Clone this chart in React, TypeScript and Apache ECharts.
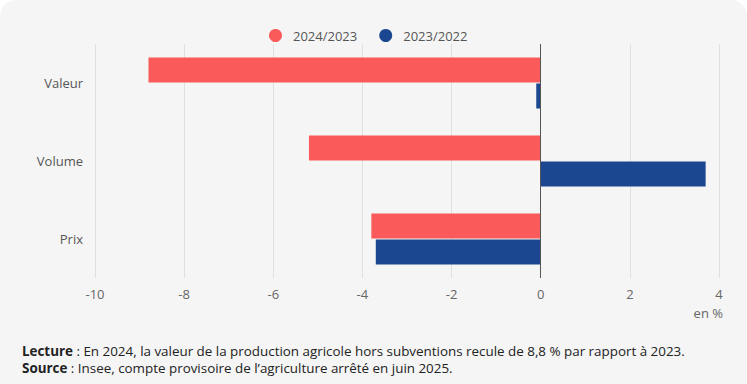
import React, { useEffect, useRef } from "react";
import * as echarts from "echarts";

const categories = ["Valeur", "Volume", "Prix"];
const seriesNames = ["2024/2023", "2023/2022"];
const values2024 = [-8.8, -5.2, -3.8];
const values2023 = [-0.1, 3.7, -3.7];
const colors = ["#fb5a5a", "#1b4690"];
const xTicks = { min: -10, max: 4, interval: 2 };

export default function App() {
  const ref = useRef<HTMLDivElement>(null);
  useEffect(() => {
    document.body.style.margin = "0";
    const chart = echarts.init(ref.current!, undefined, { renderer: "svg" });
    const font = "'Open Sans', sans-serif";
    chart.setOption({
      animation: false,
      backgroundColor: "transparent",
      textStyle: { fontFamily: font },
      color: colors,
      legend: {
        top: 24,
        left: 264,
        icon: "circle",
        itemWidth: 13,
        itemHeight: 13,
        itemGap: 22,
        textStyle: { fontSize: 13, color: "#555", fontFamily: font, padding: [0, 0, 0, 6] },
        data: seriesNames,
      },
      grid: { left: 95, right: 28, top: 44, bottom: 106, containLabel: false },
      xAxis: {
        type: "value",
        min: xTicks.min,
        max: xTicks.max,
        interval: xTicks.interval,
        axisLine: { show: false },
        axisTick: { show: false },
        axisLabel: { color: "#666", fontSize: 13, margin: 9, fontFamily: font },
        splitLine: { lineStyle: { color: "#e0e0e0", width: 1 } },
      },
      yAxis: {
        type: "category",
        data: categories,
        inverse: true,
        axisLine: { show: false, onZero: false },
        axisTick: { show: false },
        axisLabel: { color: "#555", fontSize: 13, margin: 12, fontFamily: font },
        splitLine: { show: false },
      },
      series: [
        {
          name: seriesNames[0],
          type: "bar",
          data: values2024,
          barWidth: 25,
          barGap: "4%",
          itemStyle: { color: colors[0] },
          markLine: {
            silent: true,
            symbol: "none",
            label: { show: false },
            lineStyle: { color: "#555", width: 1, type: "solid" },
            data: [{ xAxis: 0 }],
          },
        },
        {
          name: seriesNames[1],
          type: "bar",
          data: values2023,
          barWidth: 25,
          barGap: "4%",
          itemStyle: { color: colors[1] },
        },
      ],
      graphic: [
        {
          type: "text",
          right: 24,
          top: 306,
          style: { text: "en %", fontSize: 13, fill: "#666", fontFamily: font },
        },
        {
          type: "text",
          left: 22,
          top: 343,
          style: {
            text: "{b|Lecture} : En 2024, la valeur de la production agricole hors subventions recule de 8,8 % par rapport à 2023.",
            fontSize: 13.4,
            lineHeight: 16,
            fill: "#222",
            fontFamily: font,
            rich: {
              b: { fontWeight: "bold", fontSize: 13.4, lineHeight: 16, fill: "#222", fontFamily: font },
            },
          },
        },
        {
          type: "text",
          left: 22,
          top: 360,
          style: {
            text: "{b|Source} : Insee, compte provisoire de l’agriculture arrêté en juin 2025.",
            fontSize: 13.4,
            lineHeight: 16,
            fill: "#222",
            fontFamily: font,
            rich: {
              b: { fontWeight: "bold", fontSize: 13.4, lineHeight: 16, fill: "#222", fontFamily: font },
            },
          },
        },
      ],
    });
    return () => chart.dispose();
  }, []);
  return (
    <div
      style={{
        position: "absolute",
        left: 0,
        top: 0,
        width: 747,
        height: 384,
        background: "#f5f5f5",
        borderRadius: "16px 16px 0 0",
        overflow: "hidden",
      }}
    >
      <div ref={ref} style={{ width: 747, height: 384 }} />
    </div>
  );
}
